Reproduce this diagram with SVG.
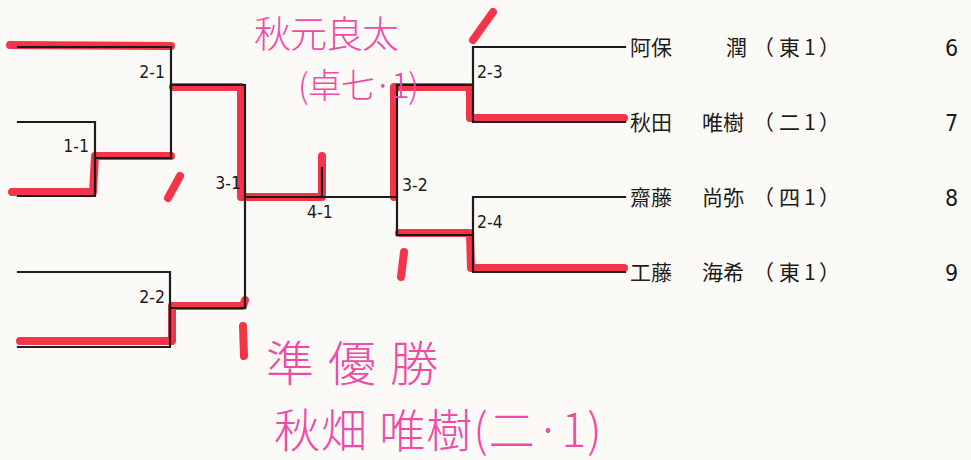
<svg xmlns="http://www.w3.org/2000/svg" width="971" height="460" viewBox="0 0 971 460">
<style>
.bg{fill:#fbfaf6}
.hl{fill:none;stroke:#f2293f;stroke-width:8;stroke-linecap:round;stroke-linejoin:round;opacity:0.95}
.ln{fill:none;stroke:#1c1c1c;stroke-width:2.2;stroke-linecap:square}
.lbl{font-family:"DejaVu Sans Condensed","DejaVu Sans",sans-serif;font-size:17.5px;fill:#1c1c1c}
.nm{font-family:"Noto Sans CJK JP","Noto Sans CJK SC",sans-serif;font-size:21px;fill:#1c1c1c}
.num{font-family:"DejaVu Sans Condensed","DejaVu Sans",sans-serif;font-size:23px;fill:#1c1c1c}
.hw{font-family:"Noto Sans CJK JP","Noto Sans CJK SC",sans-serif;font-weight:300;fill:#f04aa8}
</style>
<rect class="bg" x="0" y="0" width="971" height="460"/>

<g id="highlights">
<path class="hl" d="M10,45 L171,46"/>
<path class="hl" d="M173,87 L241,87 L241,197 L322,197 L322,156"/>
<path class="hl" d="M12,192 L93,192 L95,156 L171,156"/>
<path class="hl" d="M180,176 L168,198"/>
<path class="hl" d="M20,341 L172,341 L172,306 L243,306 L245,300"/>
<path class="hl" d="M243,326 L244,356"/>
<path class="hl" d="M394,197 L394,87 L470,87 L470,118 L624,118"/>
<path class="hl" d="M493,12 L473,40"/>
<path class="hl" d="M399,233 L470,233 L471,268 L624,268"/>
<path class="hl" d="M404,252 L401,277"/>
</g>

<g id="connectors">
<path class="ln" d="M18,47 H171 V158"/>
<path class="ln" d="M18,122 H95 V196 H18"/>
<path class="ln" d="M95,158 H171"/>
<path class="ln" d="M171,85 H245 V308"/>
<path class="ln" d="M18,272 H170 V347 H18"/>
<path class="ln" d="M170,308 H245"/>
<path class="ln" d="M245,197 H397"/>
<path class="ln" d="M322,168 V197"/>
<path class="ln" d="M397,85 V235"/>
<path class="ln" d="M397,85 H473"/>
<path class="ln" d="M625,47 H473 V122 H625"/>
<path class="ln" d="M397,235 H473"/>
<path class="ln" d="M625,197 H473 V272 H625"/>
</g>

<g id="match-labels">
<text id="m1-1" class="lbl" x="89" y="152" text-anchor="end">1-1</text>
<text id="m2-1" class="lbl" x="165" y="78" text-anchor="end">2-1</text>
<text id="m2-2" class="lbl" x="165" y="303" text-anchor="end">2-2</text>
<text id="m3-1" class="lbl" x="241" y="189" text-anchor="end">3-1</text>
<text id="m4-1" class="lbl" x="307" y="218">4-1</text>
<text id="m3-2" class="lbl" x="402" y="191">3-2</text>
<text id="m2-3" class="lbl" x="477" y="78">2-3</text>
<text id="m2-4" class="lbl" x="477" y="228">2-4</text>
</g>

<g id="player-6">
<text class="nm" y="55"><tspan x="630">阿保</tspan><tspan x="726">潤</tspan><tspan x="753">（</tspan><tspan x="779">東</tspan><tspan x="804">1</tspan><tspan x="819">）</tspan></text>
<text class="num" x="945" y="56">6</text>
</g>
<g id="player-7">
<text class="nm" y="130"><tspan x="630">秋田</tspan><tspan x="702">唯樹</tspan><tspan x="753">（</tspan><tspan x="779">二</tspan><tspan x="804">1</tspan><tspan x="819">）</tspan></text>
<text class="num" x="945" y="131">7</text>
</g>
<g id="player-8">
<text class="nm" y="205"><tspan x="630">齋藤</tspan><tspan x="702">尚弥</tspan><tspan x="753">（</tspan><tspan x="779">四</tspan><tspan x="804">1</tspan><tspan x="819">）</tspan></text>
<text class="num" x="945" y="206">8</text>
</g>
<g id="player-9">
<text class="nm" y="280"><tspan x="630">工藤</tspan><tspan x="702">海希</tspan><tspan x="753">（</tspan><tspan x="779">東</tspan><tspan x="804">1</tspan><tspan x="819">）</tspan></text>
<text class="num" x="945" y="281">9</text>
</g>

<g id="handwritten-winner">
<text class="hw" x="254" y="48" font-size="37" letter-spacing="-1">秋元良太</text>
<text class="hw" x="298" y="98" font-size="34" letter-spacing="-1">(卓七·1)</text>
</g>
<g id="handwritten-runnerup">
<text class="hw" x="266" y="381" font-size="48" letter-spacing="14">準優勝</text>
<text class="hw" x="274" y="447" font-size="46" letter-spacing="1">秋畑 唯樹(二·1)</text>
</g>
</svg>
